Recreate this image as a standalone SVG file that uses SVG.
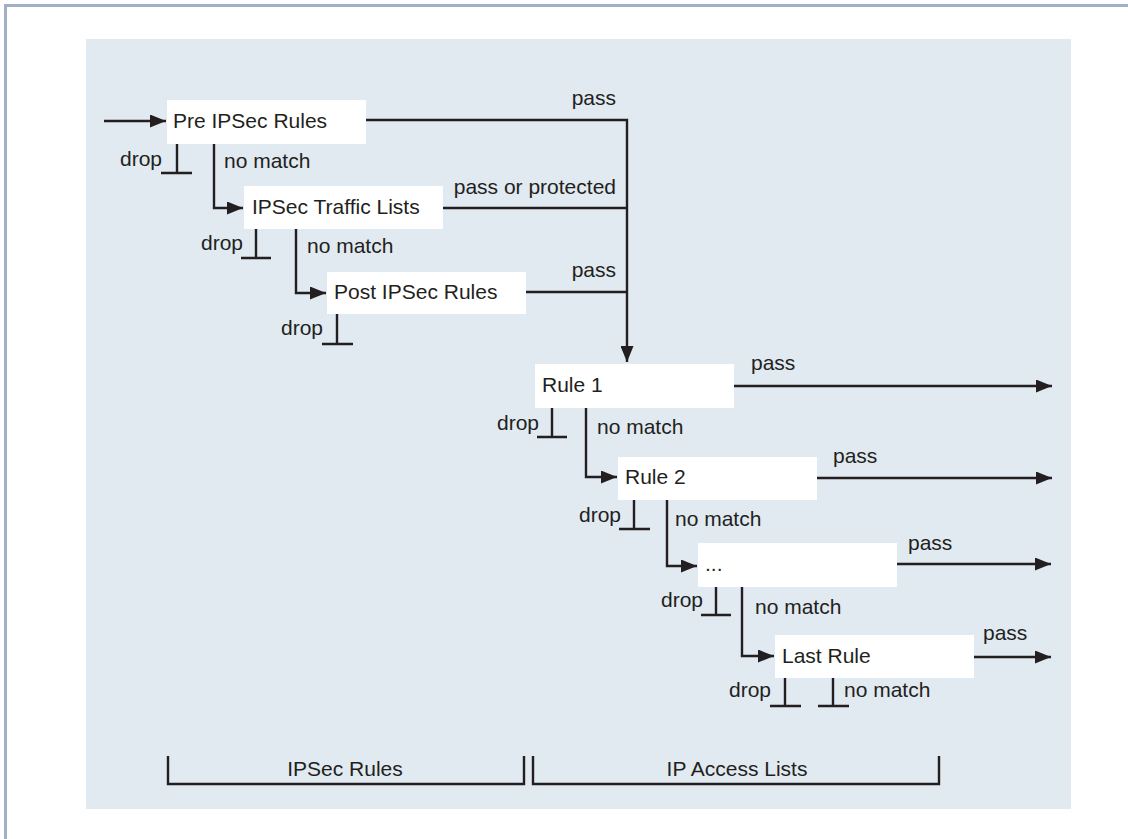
<svg xmlns="http://www.w3.org/2000/svg" width="1128" height="839" viewBox="0 0 1128 839">
<defs>
<style>
.t{font-family:"Liberation Sans",Arial,sans-serif;font-size:21px;fill:#231f20}
.m{text-anchor:middle}
.e{text-anchor:end}
.box{fill:#ffffff}
.ln{fill:none;stroke:#231f20;stroke-width:2.4}
</style>
<marker id="ah" viewBox="0 0 16 13" refX="16" refY="6.5" markerWidth="16" markerHeight="13" markerUnits="userSpaceOnUse" orient="auto">
<path d="M0,0 L16,6.5 L0,13 Z" fill="#231f20"/>
</marker>
</defs>
<rect x="0" y="0" width="1128" height="839" fill="#ffffff"/>
<rect x="4" y="4" width="1124" height="3" fill="#a3afc4"/>
<rect x="4" y="4" width="3" height="835" fill="#a3afc4"/>
<rect x="86" y="39" width="985" height="770" fill="#e1e9f1"/>

<g id="n-pre"><rect class="box" x="167" y="100" width="199" height="44"/><text class="t" x="173" y="128">Pre IPSec Rules</text></g>
<g id="n-traffic"><rect class="box" x="244" y="186" width="199" height="43"/><text class="t" x="252" y="214">IPSec Traffic Lists</text></g>
<g id="n-post"><rect class="box" x="327" y="272" width="199" height="42"/><text class="t" x="334" y="299">Post IPSec Rules</text></g>
<g id="n-rule1"><rect class="box" x="535" y="364" width="199" height="44"/><text class="t" x="542" y="392">Rule 1</text></g>
<g id="n-rule2"><rect class="box" x="618" y="457" width="199" height="43"/><text class="t" x="625" y="484">Rule 2</text></g>
<g id="n-dots"><rect class="box" x="698" y="543" width="199" height="44"/><text class="t" x="705" y="571">...</text></g>
<g id="n-last"><rect class="box" x="775" y="635" width="199" height="43"/><text class="t" x="782" y="663">Last Rule</text></g>

<g id="connectors">
<path class="ln" d="M104,121 H166" marker-end="url(#ah)"/>
<path class="ln" d="M366,120 H627 V362" marker-end="url(#ah)"/>
<path class="ln" d="M443,208 H627"/>
<path class="ln" d="M526,292 H627"/>
<path class="ln" d="M214,144 V208 H243" marker-end="url(#ah)"/>
<path class="ln" d="M296,229 V293 H326" marker-end="url(#ah)"/>
<path class="ln" d="M586,408 V477 H617" marker-end="url(#ah)"/>
<path class="ln" d="M667,500 V566 H697" marker-end="url(#ah)"/>
<path class="ln" d="M742,587 V656 H774" marker-end="url(#ah)"/>
<path class="ln" d="M734,386 H1052" marker-end="url(#ah)"/>
<path class="ln" d="M817,478 H1052" marker-end="url(#ah)"/>
<path class="ln" d="M897,564 H1051" marker-end="url(#ah)"/>
<path class="ln" d="M974,657 H1051" marker-end="url(#ah)"/>
<path class="ln" d="M177,144 V173 M161,173 H192"/>
<path class="ln" d="M256,229 V258 M241,258 H271"/>
<path class="ln" d="M337,314 V344 M322,344 H353"/>
<path class="ln" d="M552,408 V437 M537,437 H567"/>
<path class="ln" d="M634,500 V529 M619,529 H650"/>
<path class="ln" d="M716,587 V615 M701,615 H731"/>
<path class="ln" d="M785,678 V706 M770,706 H801"/>
<path class="ln" d="M833,678 V706 M818,706 H849"/>
<path class="ln" d="M168,756 V784 H524 V756"/>
<path class="ln" d="M533,756 V784 H939 V756"/>
</g>

<g id="labels">
<text class="t e" x="616" y="105">pass</text>
<text class="t e" x="616" y="194">pass or protected</text>
<text class="t e" x="616" y="277">pass</text>
<text class="t" x="751" y="370">pass</text>
<text class="t" x="833" y="463">pass</text>
<text class="t" x="908" y="550">pass</text>
<text class="t" x="983" y="640">pass</text>
<text class="t e" x="162" y="166">drop</text>
<text class="t e" x="243" y="250">drop</text>
<text class="t e" x="323" y="335">drop</text>
<text class="t e" x="539" y="430">drop</text>
<text class="t e" x="621" y="522">drop</text>
<text class="t e" x="703" y="607">drop</text>
<text class="t e" x="771" y="697">drop</text>
<text class="t" x="224" y="168">no match</text>
<text class="t" x="307" y="253">no match</text>
<text class="t" x="597" y="434">no match</text>
<text class="t" x="675" y="526">no match</text>
<text class="t" x="755" y="614">no match</text>
<text class="t" x="844" y="697">no match</text>
<text class="t m" x="345" y="776">IPSec Rules</text>
<text class="t m" x="737" y="776">IP Access Lists</text>
</g>
</svg>
